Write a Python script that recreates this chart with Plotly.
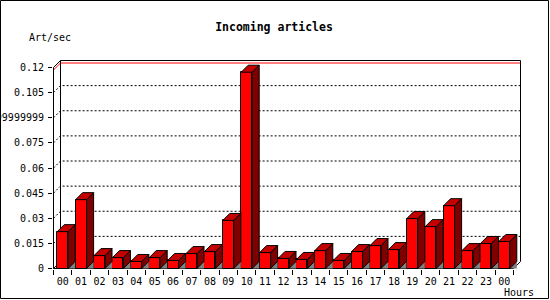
import plotly.graph_objects as go

# ---------------- data ----------------
hours = ["00", "01", "02", "03", "04", "05", "06", "07", "08", "09", "10", "11",
         "12", "13", "14", "15", "16", "17", "18", "19", "20", "21", "22", "23", "00"]
rate = [0.0220, 0.0411, 0.0077, 0.0065, 0.0042, 0.0065, 0.0048, 0.0089, 0.0101,
        0.0287, 0.1172, 0.0095, 0.0060, 0.0054, 0.0107, 0.0048, 0.0101, 0.0137,
        0.0113, 0.0298, 0.0250, 0.0375, 0.0107, 0.0149, 0.0161]
y_ticks = [0, 0.015, 0.03, 0.045, 0.06, 0.075, 0.09, 0.105, 0.12]
y_tick_text = ["0", "0.015", "0.03", "0.045", "0.06", "0.075", "0.09999999", "0.105", "0.12"]
peak_line = 0.1185
title_text = "Incoming articles"
y_title = "Art/sec"
x_title = "Hours"

# ---------------- geometry (pixels) ----------------
W, H = 550, 300
L, T = 53, 60
N = len(hours)
CW = 18.4          # pixels per category
FH = 201           # front-plane pixel height of 0..0.12
D = 7              # 3D depth in pixels
YMAX = 0.12
PW = N * CW + D + 1
PH = FH + D + 1
R = W - L - PW
B = H - T - PH
kx = 1.0 / CW
ky = YMAX / FH
xr = [-0.5 - 0.5 * kx, -0.5 - 0.5 * kx + PW * kx]
yr = [-0.5 * ky, -0.5 * ky + PH * ky]
dx, dy = D * kx, D * ky
bw = 11 * kx
xl, xrt = -0.5, N - 0.5
FONT = "DejaVu Sans Mono"


def px_to_paper(px, py):
    return (px - L) / PW, (T + PH - py) / PH


fig = go.Figure()

# front faces
fig.add_trace(go.Bar(x=list(range(N)), y=rate, width=bw,
                     marker=dict(color="#ff0000", line=dict(color="black", width=1)),
                     hoverinfo="skip"))

# shadows, side faces, top faces
shx, shy, sx, sy, tx, ty = [], [], [], [], [], []
for i, v in enumerate(rate):
    a, b = i - bw / 2, i + bw / 2
    shx += [b, b + dx, b + dx, b, None]
    shy += [0, dy, 0, 0, None]
    sx += [b, b + dx, b + dx, b, b, None]
    sy += [v, v + dy, dy, 0, v, None]
    tx += [a, a + dx, b + dx, b, a, None]
    ty += [v, v + dy, v + dy, v, v, None]

fig.add_trace(go.Scatter(x=shx, y=shy, mode="lines", fill="toself", fillcolor="#808080",
                         line=dict(width=0, color="#808080"), hoverinfo="skip"))
fig.add_trace(go.Scatter(x=sx, y=sy, mode="lines", fill="toself", fillcolor="#800000",
                         line=dict(width=1, color="black"), hoverinfo="skip"))
fig.add_trace(go.Scatter(x=tx, y=ty, mode="lines", fill="toself", fillcolor="#c40000",
                         line=dict(width=1, color="black"), hoverinfo="skip"))

shapes = []
# gridlines on back plane (dotted) with 3D connectors
for v in y_ticks[1:-1]:
    shapes.append(dict(type="path", xref="x", yref="y", layer="below",
                       path=f"M {xl},{v} L {xl+dx},{v+dy} L {xrt+dx},{v+dy}",
                       line=dict(color="black", width=1, dash="2px,2px")))
# peak line (red)
shapes.append(dict(type="path", xref="x", yref="y", layer="below",
                   path=f"M {xl},{peak_line} L {xl+dx},{peak_line+dy} L {xrt+dx},{peak_line+dy}",
                   line=dict(color="#ff0000", width=1)))
# back plane frame
shapes.append(dict(type="path", xref="x", yref="y", layer="below",
                   path=f"M {xl+dx},{dy} L {xl+dx},{YMAX+dy} L {xrt+dx},{YMAX+dy} L {xrt+dx},{dy}",
                   line=dict(color="black", width=1)))
# front-left axis and floor
shapes.append(dict(type="path", xref="x", yref="y", layer="below",
                   path=f"M {xl+dx},{YMAX+dy} L {xl},{YMAX} L {xl},0 L {xl+dx},{dy}",
                   line=dict(color="black", width=1)))
shapes.append(dict(type="path", xref="x", yref="y", layer="below",
                   path=f"M {xl},0 L {xrt},0 L {xrt+dx},{dy}",
                   line=dict(color="black", width=1)))
# outer border
bx0, by0 = px_to_paper(0.5, 0.5)
bx1, by1 = px_to_paper(548.5, 298.5)
shapes.append(dict(type="rect", xref="paper", yref="paper", x0=bx0, y0=by1, x1=bx1, y1=by0,
                   line=dict(color="black", width=1)))

ax_x, ax_y = px_to_paper(50, 37)
hx, hy = px_to_paper(519, 292)
annotations = [
    dict(text=y_title, xref="paper", yref="paper", x=ax_x, y=ax_y, xanchor="center",
         yanchor="middle", showarrow=False, font=dict(family=FONT, size=10, color="black")),
    dict(text=x_title, xref="paper", yref="paper", x=hx, y=hy, xanchor="center",
         yanchor="middle", showarrow=False, font=dict(family=FONT, size=10, color="black")),
]

fig.update_layout(
    width=W, height=H,
    margin=dict(l=L, r=R, t=T, b=B, pad=0, autoexpand=False),
    paper_bgcolor="white", plot_bgcolor="white",
    showlegend=False,
    title=dict(text=f"<b>{title_text}</b>", x=274 / W, xanchor="center",
               y=1 - 27 / H, yanchor="middle",
               font=dict(family=FONT, size=11.5, color="black")),
    xaxis=dict(range=xr, tickmode="array", tickvals=list(range(N)), ticktext=hours,
               ticks="", showgrid=False, zeroline=False, showline=False, automargin=False,
               ticklabelstandoff=5,
               tickfont=dict(family=FONT, size=10, color="black"),
               minor=dict(tickmode="array", tickvals=[i - 0.5 for i in range(N + 1)],
                          ticks="outside", ticklen=5, tickcolor="black", tickwidth=1,
                          showgrid=False)),
    yaxis=dict(range=yr, tickmode="array", tickvals=y_ticks, ticktext=y_tick_text,
               ticks="outside", ticklen=4, tickcolor="black", tickwidth=1,
               showgrid=False, zeroline=False, showline=False, automargin=False,
               ticklabelstandoff=2,
               tickfont=dict(family=FONT, size=10, color="black")),
    shapes=shapes,
    annotations=annotations,
    bargap=0,
)

fig.write_html("out.html")
